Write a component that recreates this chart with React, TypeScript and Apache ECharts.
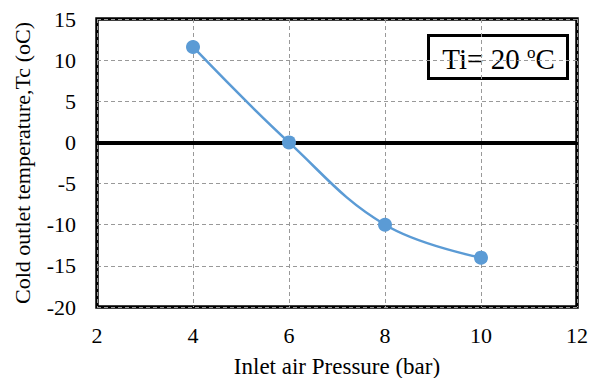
import React, { useEffect, useRef } from "react";
import * as echarts from "echarts";

const pressure = [4, 6, 8, 10];
const coldTemp = [11.6, 0, -10, -14];
const xTicks = { min: 2, max: 12, interval: 2 };
const yTicks = { min: -20, max: 15, interval: 5 };
const xTitle = "Inlet air Pressure (bar)";
const yTitle = "Cold outlet temperature,Tc (oC)";

const FONT = "Liberation Serif";

export default function App() {
  const ref = useRef<HTMLDivElement>(null);
  useEffect(() => {
    if (!ref.current) return;
    const chart = echarts.init(ref.current, undefined, { renderer: "svg" });
    chart.setOption({
      animation: false,
      backgroundColor: "#ffffff",
      textStyle: { fontFamily: FONT, color: "#000" },
      grid: {
        left: 97,
        right: 14,
        top: 19,
        bottom: 71,
        outerBoundsMode: "none",
        containLabel: false,
        show: true,
        borderColor: "#000",
        borderWidth: 3.5,
        backgroundColor: "transparent",
      },
      xAxis: {
        type: "value",
        min: xTicks.min,
        max: xTicks.max,
        interval: xTicks.interval,
        name: xTitle,
        nameLocation: "middle",
        nameGap: 48,
        nameTextStyle: { fontFamily: FONT, fontSize: 23, lineHeight: 22, color: "#000" },
        axisLine: { show: false },
        axisTick: { show: false },
        axisLabel: { fontFamily: FONT, fontSize: 22, color: "#000", margin: 17 },
        splitLine: { show: true, lineStyle: { type: [4, 3], color: "#999", width: 1 } },
      },
      yAxis: {
        type: "value",
        min: yTicks.min,
        max: yTicks.max,
        interval: yTicks.interval,
        name: yTitle,
        nameLocation: "middle",
        nameGap: 64,
        nameTextStyle: { fontFamily: FONT, fontSize: 22, color: "#000" },
        axisLine: { show: false },
        axisTick: { show: false },
        axisLabel: { fontFamily: FONT, fontSize: 22, color: "#000", margin: 21 },
        splitLine: { show: true, lineStyle: { type: [4, 3], color: "#999", width: 1 } },
      },
      series: [
        {
          type: "line",
          data: pressure.map((p, i) => [p, coldTemp[i]]),
          smooth: 0.4,
          symbol: "circle",
          symbolSize: 14,
          lineStyle: { color: "#5B9BD5", width: 2.5 },
          itemStyle: { color: "#5B9BD5" },
          z: 5,
          markLine: {
            silent: true,
            symbol: "none",
            label: { show: false },
            lineStyle: { color: "#000", width: 4, type: "solid" },
            data: [{ yAxis: 0 }],
            z: 3,
          },
        },
      ],
      graphic: [
        {
          type: "group",
          left: 427,
          top: 34,
          z: 10,
          children: [
            {
              type: "rect",
              shape: { x: 0, y: 0, width: 139, height: 43 },
              style: { fill: "#fff", stroke: "#000", lineWidth: 3 },
            },
            {
              type: "text",
              x: 70,
              y: 23,
              style: {
                text: "{n|Ti= 20 }{s|o}{n|C}",
                align: "center",
                verticalAlign: "middle",
                rich: {
                  n: { fontFamily: FONT, fontSize: 29, fill: "#000", verticalAlign: "bottom" },
                  s: { fontFamily: FONT, fontSize: 17, fill: "#000", verticalAlign: "top", padding: [0, 0, 12, 0] },
                },
              },
            },
          ],
        },
      ],
    });
    return () => chart.dispose();
  }, []);
  return (
    <div
      ref={ref}
      style={{ position: "fixed", left: 0, top: 0, width: 591, height: 378 }}
    />
  );
}
